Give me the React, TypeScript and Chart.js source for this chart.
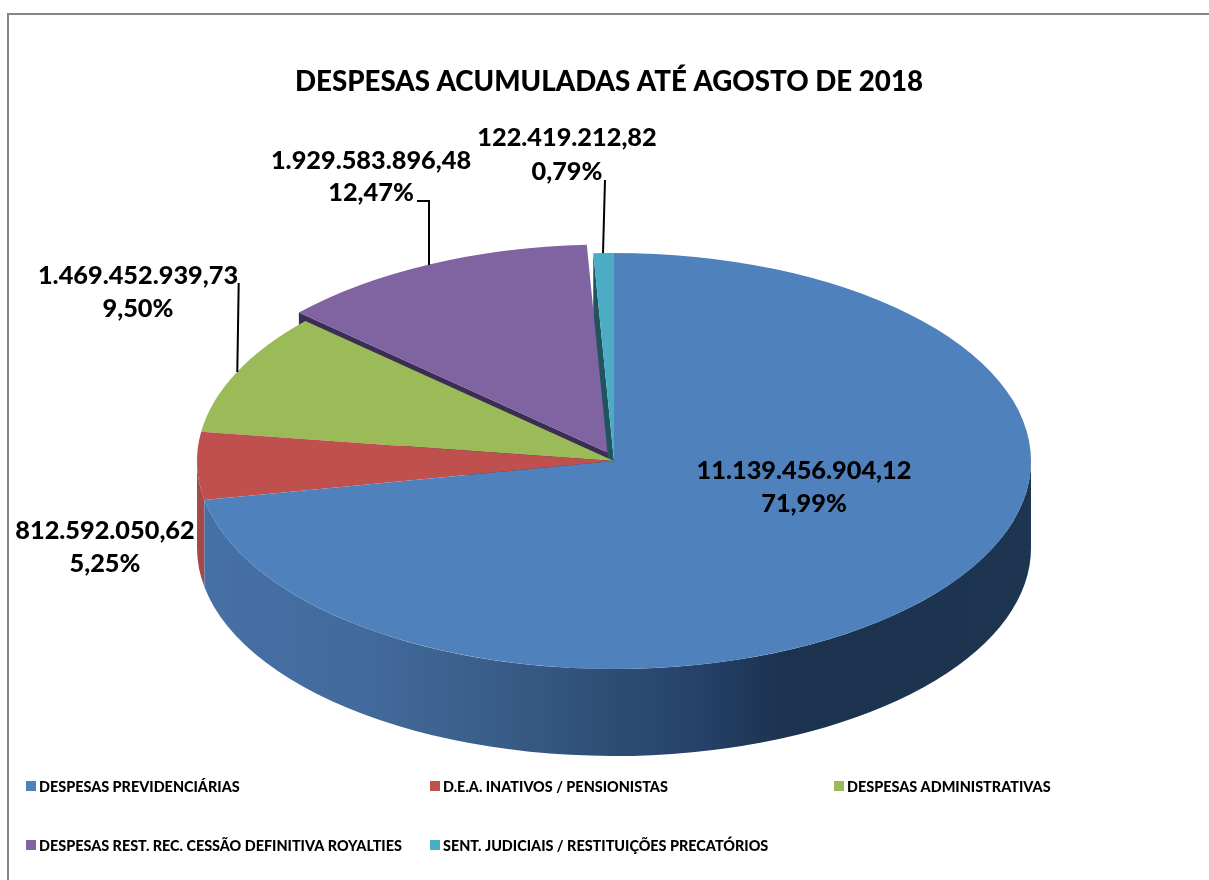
import React, { useEffect, useRef } from "react";
import { Chart, registerables } from "chart.js";

Chart.register(...registerables);

const categories = [
  "DESPESAS PREVIDENCIÁRIAS",
  "D.E.A. INATIVOS / PENSIONISTAS",
  "DESPESAS ADMINISTRATIVAS",
  "DESPESAS REST. REC. CESSÃO DEFINITIVA ROYALTIES",
  "SENT. JUDICIAIS / RESTITUIÇÕES PRECATÓRIOS",
];
const amounts = [11139456904.12, 812592050.62, 1469452939.73, 1929583896.48, 122419212.82];
const percents = [71.99, 5.25, 9.5, 12.47, 0.79];
const topColors = ["#4f81bd", "#c0504d", "#9bbb59", "#8064a2", "#4bacc6"];
const cutColors = ["#2c4a70", "#9c4543", "#6f8a3c", "#3c2d55", "#1f5460"];

const TITLE = "DESPESAS ACUMULADAS ATÉ AGOSTO DE 2018";
const FONT = "Lato, sans-serif";

// view of the tilted pie
const PIE_CX = 614;
const PIE_CY = 461;
const RADIUS = 417;
const TILT = 0.4988;
const DEPTH = 87;
const EXPLODE = [[0, 0], [0, 0], [0, 0], [-6.5, -8.5], [0, 0]];

// label anchors, leader lines, legend layout
const LABEL_POS = [[804, 471, 504], [105, 531, 564], [138, 276, 309], [371, 161, 193], [567, 138, 172]];
const LEADERS = [
  null,
  null,
  [[238.7, 283], [237.3, 372]],
  [[417, 201], [429, 201], [429, 265]],
  [[605, 180], [603, 253]],
];
const LEGEND_POS = [[26, 786], [430, 786], [834, 786], [26, 845], [430, 845]];

const fmt = (v: number) =>
  v.toLocaleString("pt-BR", { minimumFractionDigits: 2, maximumFractionDigits: 2 });

const tiltPlugin = {
  id: "tilt3d",
  beforeDraw(chart: any) {
    const { ctx } = chart;
    ctx.save();
    ctx.strokeStyle = "#868686";
    ctx.lineWidth = 2;
    ctx.beginPath();
    ctx.moveTo(8, 880);
    ctx.lineTo(8, 14);
    ctx.lineTo(1209, 14);
    ctx.stroke();
    ctx.restore();
  },
  beforeDatasetDraw(chart: any) {
    const { ctx } = chart;
    const arcs = chart.getDatasetMeta(0).data;
    const ry = RADIUS * TILT;
    const pt = (a: number) => [PIE_CX + RADIUS * Math.cos(a), PIE_CY + ry * Math.sin(a)];

    const cutFace = (i: number, angle: number) => {
      const [dx, dy] = EXPLODE[i];
      const [x, y] = pt(angle);
      ctx.fillStyle = cutColors[i];
      ctx.beginPath();
      ctx.moveTo(x + dx, y + dy);
      ctx.lineTo(PIE_CX + dx, PIE_CY + dy);
      ctx.lineTo(PIE_CX + dx, PIE_CY + dy + DEPTH);
      ctx.lineTo(x + dx, y + dy + DEPTH);
      ctx.closePath();
      ctx.fill();
    };
    const outerWall = (from: number, to: number, fill: any) => {
      ctx.fillStyle = fill;
      ctx.beginPath();
      ctx.ellipse(PIE_CX, PIE_CY, RADIUS, ry, 0, from, to);
      ctx.ellipse(PIE_CX, PIE_CY + DEPTH, RADIUS, ry, 0, to, from, true);
      ctx.closePath();
      ctx.fill();
    };

    // hidden faces first
    cutFace(4, arcs[4].startAngle);
    cutFace(3, arcs[3].startAngle);

    // red wall
    outerWall(arcs[1].startAngle, Math.PI, "#a54a48");

    // blue wall
    const g = ctx.createLinearGradient(PIE_CX - RADIUS, 0, PIE_CX + RADIUS, 0);
    g.addColorStop(0, "#4671a6");
    g.addColorStop(0.2, "#426a9c");
    g.addColorStop(0.35, "#3a5e8a");
    g.addColorStop(0.48, "#2f4f77");
    g.addColorStop(0.6, "#26426a");
    g.addColorStop(0.7, "#1c3350");
    g.addColorStop(1, "#1e3552");
    outerWall(0, arcs[0].endAngle, g);

    // top faces
    [3, 2, 1, 0, 4].forEach((i) => {
      const arc = arcs[i];
      const [dx, dy] = EXPLODE[i];
      ctx.save();
      ctx.translate(PIE_CX + dx, PIE_CY + dy);
      ctx.scale(1, TILT);
      ctx.translate(-arc.x, -arc.y);
      arc.draw(ctx);
      ctx.restore();
    });
    return false;
  },
  afterDraw(chart: any) {
    const { ctx } = chart;
    ctx.save();
    // leader lines
    ctx.strokeStyle = "#000";
    ctx.lineWidth = 2;
    LEADERS.forEach((l) => {
      if (!l) return;
      ctx.beginPath();
      l.forEach(([x, y], j) => (j ? ctx.lineTo(x, y) : ctx.moveTo(x, y)));
      ctx.stroke();
    });
    // data labels
    ctx.fillStyle = "#000";
    ctx.textAlign = "center";
    ctx.textBaseline = "middle";
    ctx.font = `900 25.3px ${FONT}`;
    amounts.forEach((v, i) => {
      const [x, y1, y2] = LABEL_POS[i];
      ctx.fillText(fmt(v), x, y1);
      ctx.fillText(fmt(percents[i]) + "%", x, y2);
    });
    // legend
    ctx.textAlign = "left";
    ctx.font = `900 14.4px ${FONT}`;
    categories.forEach((c, i) => {
      const [x, y] = LEGEND_POS[i];
      ctx.fillStyle = topColors[i];
      ctx.fillRect(x, y - 5, 10, 10);
      ctx.fillStyle = "#000";
      ctx.fillText(c, x + 13, y + 1);
    });
    ctx.restore();
  },
};

export default function App() {
  const ref = useRef<HTMLCanvasElement>(null);
  useEffect(() => {
    document.body.style.margin = "0";
    const chart = new Chart(ref.current as HTMLCanvasElement, {
      type: "pie",
      data: {
        labels: categories,
        datasets: [
          {
            data: amounts,
            backgroundColor: topColors,
            borderWidth: 0,
            radius: RADIUS,
          } as any,
        ],
      },
      options: {
        responsive: false,
        animation: false,
        layout: { padding: { left: 9, right: 0, top: 0, bottom: 60 } },
        plugins: {
          legend: { display: false },
          tooltip: { enabled: false },
          title: {
            display: true,
            text: TITLE,
            color: "#000",
            font: { family: FONT, size: 27.7, weight: "900" },
            padding: { top: 65, bottom: 10 },
          },
        },
      },
      plugins: [tiltPlugin],
    } as any);
    return () => chart.destroy();
  }, []);
  return <canvas ref={ref} width={1209} height={880} style={{ display: "block" }} />;
}
